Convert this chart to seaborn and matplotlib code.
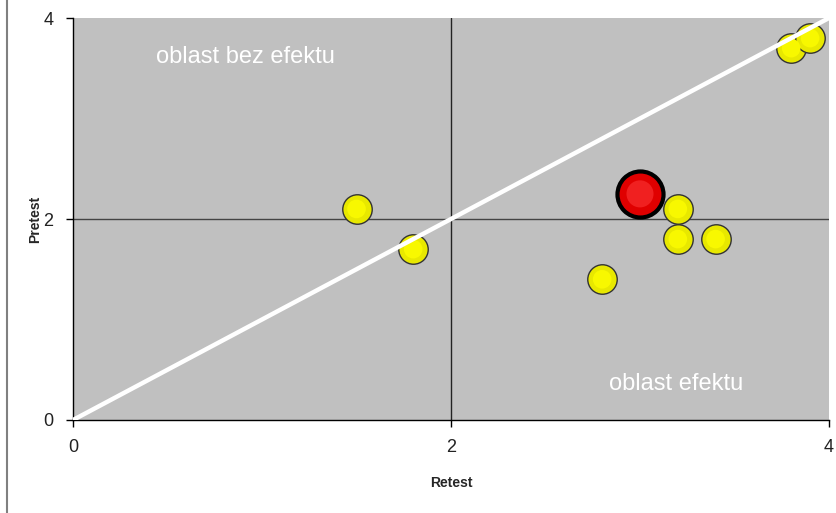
import matplotlib
matplotlib.use("Agg")
import matplotlib.pyplot as plt
import seaborn as sns
import pandas as pd
from matplotlib.lines import Line2D

# data
retest = [1.5, 1.8, 2.8, 3.2, 3.2, 3.4, 3.8, 3.9]
pretest = [2.1, 1.7, 1.4, 2.1, 1.8, 1.8, 3.7, 3.8]
red_retest = [3.0]
red_pretest = [2.25]
diag = [0, 4]

df = pd.DataFrame({"Retest": retest, "Pretest": pretest})
red = pd.DataFrame({"Retest": red_retest, "Pretest": red_pretest})

sns.set_style("white")
plt.rcParams["font.family"] = ["Liberation Sans", "DejaVu Sans"]

fig = plt.figure(figsize=(8.36, 5.13), dpi=100)
ax = fig.add_axes([73 / 836, 93 / 513, 756 / 836, 402 / 513])
ax.set_facecolor("#c0c0c0")

# grid at 2 only
ax.axvline(2, color="#222222", lw=1, zorder=1)
ax.axhline(2, color="#444444", lw=1, zorder=1)

sns.scatterplot(data=df, x="Retest", y="Pretest", ax=ax, s=450, color="#e8e800",
                edgecolor="#333333", linewidth=1, zorder=3, legend=False)
sns.scatterplot(data=df, x="Retest", y="Pretest", ax=ax, s=180, color="#f8f800",
                edgecolor="none", zorder=4, legend=False)
sns.scatterplot(data=red, x="Retest", y="Pretest", ax=ax, s=1100, color="#e00000",
                edgecolor="black", linewidth=3, zorder=3, legend=False)
sns.scatterplot(data=red, x="Retest", y="Pretest", ax=ax, s=380, color="#f02020",
                edgecolor="none", zorder=4, legend=False)

sns.lineplot(x=diag, y=diag, ax=ax, color="white", lw=3.2, zorder=5)

ax.text(0.91, 3.61, "oblast bez efektu", color="white", fontsize=17,
        ha="center", va="center", zorder=6)
ax.text(3.19, 0.36, "oblast efektu", color="white", fontsize=17,
        ha="center", va="center", zorder=6)

ax.set_xlim(0, 4)
ax.set_ylim(0, 4)
ax.set_xticks([0, 2, 4])
ax.set_yticks([0, 2, 4])
ax.tick_params(axis="both", direction="out", length=5, width=1, color="black",
               labelsize=13, labelcolor="#222222", bottom=True, left=True, pad=9)
for s in ["top", "right"]:
    ax.spines[s].set_visible(False)
for s in ["left", "bottom"]:
    ax.spines[s].set_color("black")
    ax.spines[s].set_linewidth(1)

ax.set_xlabel("Retest", fontsize=10, fontweight="bold", labelpad=14)
ax.set_ylabel("Pretest", fontsize=10, fontweight="bold", labelpad=1)

# outer frame line on the left
fig.add_artist(Line2D([7 / 836, 7 / 836], [0, 1], color="#808080", lw=1.5,
                      transform=fig.transFigure))

fig.savefig("out.png", dpi=100)
